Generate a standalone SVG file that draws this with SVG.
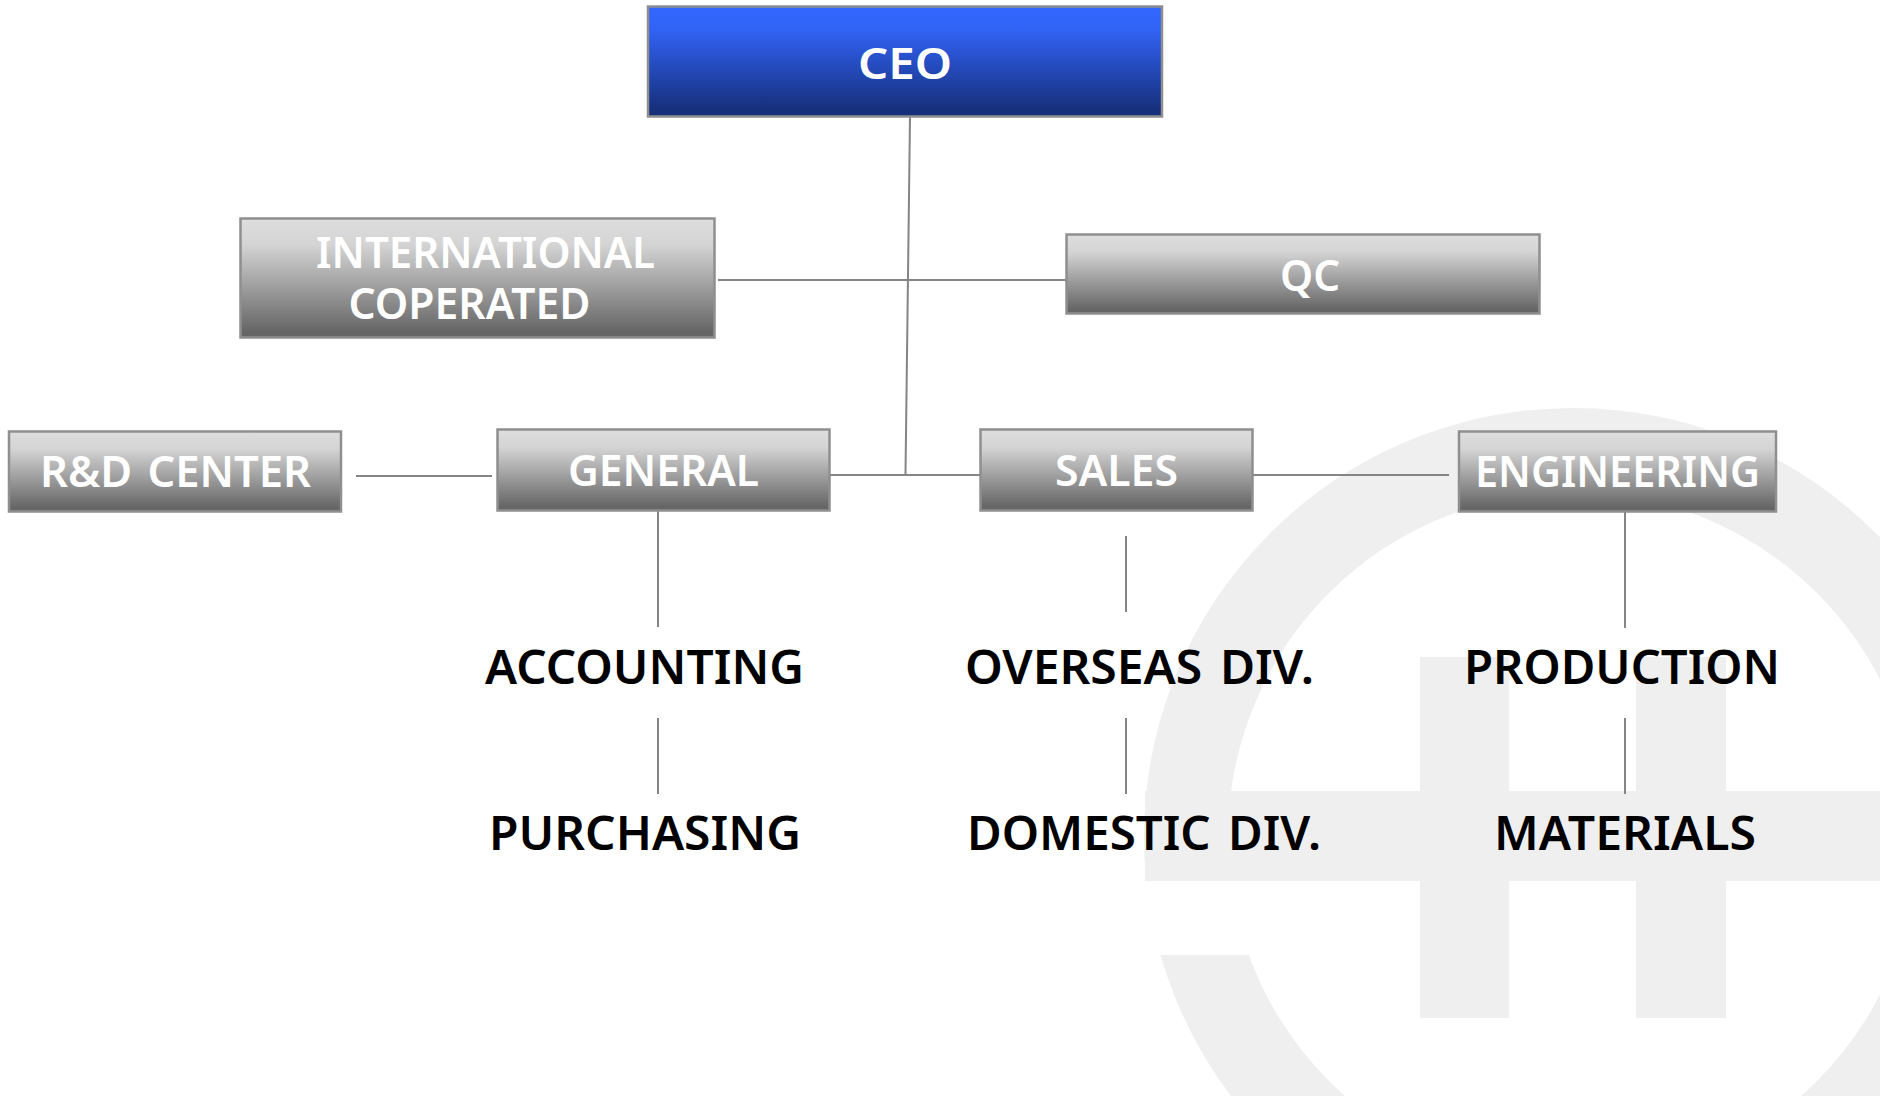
<svg xmlns="http://www.w3.org/2000/svg" width="1880" height="1096" viewBox="0 0 1880 1096">
<style>
text{font-family:"Noto Sans","Open Sans","Liberation Sans",sans-serif;font-weight:600}
.w{fill:#fff;font-size:44px}
.b{fill:#000;font-size:47px}
.box{fill:url(#grey);stroke:#8f8f8f;stroke-width:2.5}
.wm{fill:#efefef}
.c line{stroke:#858585;stroke-width:2;fill:none}
</style>
<defs>
<linearGradient id="grey" x1="0" y1="0" x2="0" y2="1"><stop offset="0" stop-color="#dedede"/><stop offset=".22" stop-color="#d4d4d4"/><stop offset=".95" stop-color="#666"/><stop offset="1" stop-color="#666"/></linearGradient>
<linearGradient id="blue" x1="0" y1="0" x2="0" y2="1"><stop offset="0" stop-color="#3366ff"/><stop offset=".2" stop-color="#3163f6"/><stop offset=".95" stop-color="#162f7a"/><stop offset="1" stop-color="#162f7a"/></linearGradient>
<clipPath id="gap"><path d="M1000 380H1880V1096H1000V955H1420V881H1000Z"/></clipPath>
</defs>
<rect width="1880" height="1096" fill="#fff"/>
<g id="watermark">
<circle cx="1573" cy="837" r="387" fill="none" stroke="#efefef" stroke-width="84" clip-path="url(#gap)"/>
<rect class="wm" x="1145" y="791" width="735" height="90"/>
<rect class="wm" x="1420" y="657" width="89" height="361"/>
<rect class="wm" x="1636" y="657" width="90" height="361"/>
</g>
<g id="connectors" class="c">
<line x1="910" y1="117" x2="905.500" y2="474"/>
<line x1="718" y1="280" x2="1066" y2="280"/>
<line x1="356" y1="476" x2="492" y2="476"/>
<line x1="830" y1="475" x2="980" y2="475"/>
<line x1="1253" y1="475" x2="1449" y2="475"/>
<line x1="658" y1="511" x2="658" y2="627"/>
<line x1="658" y1="718" x2="658" y2="794"/>
<line x1="1126" y1="536" x2="1126" y2="612"/>
<line x1="1126" y1="718" x2="1126" y2="794"/>
<line x1="1625" y1="512" x2="1625" y2="628"/>
<line x1="1625" y1="718" x2="1625" y2="794"/>
</g>
<g id="ceo"><rect x="648" y="6.500" width="514" height="110" fill="url(#blue)" stroke="#8f8f8f" stroke-width="2.500"/><text class="w" x="858" y="79" textLength="94" lengthAdjust="spacingAndGlyphs">CEO</text></g>
<g id="international"><rect class="box" x="240.500" y="218.500" width="474" height="119"/><text class="w" x="316" y="268" textLength="339" lengthAdjust="spacingAndGlyphs">INTERNATIONAL</text><text class="w" x="348.500" y="319" textLength="242" lengthAdjust="spacingAndGlyphs">COPERATED</text></g>
<g id="qc"><rect class="box" x="1066.500" y="234.500" width="473" height="79"/><text class="w" x="1280" y="291" textLength="60" lengthAdjust="spacingAndGlyphs">QC</text></g>
<g id="rd-center"><rect class="box" x="9" y="431.500" width="332" height="80"/><text class="w" x="40" y="487" textLength="271" lengthAdjust="spacingAndGlyphs" word-spacing="4">R&amp;D CENTER</text></g>
<g id="general"><rect class="box" x="497.500" y="429.500" width="332" height="81"/><text class="w" x="568" y="486" textLength="191" lengthAdjust="spacingAndGlyphs">GENERAL</text></g>
<g id="sales"><rect class="box" x="980.500" y="429.500" width="272" height="81"/><text class="w" x="1055" y="486" textLength="123" lengthAdjust="spacingAndGlyphs">SALES</text></g>
<g id="engineering"><rect class="box" x="1459" y="431.500" width="317" height="80"/><text class="w" x="1475" y="487" textLength="285" lengthAdjust="spacingAndGlyphs">ENGINEERING</text></g>
<g id="accounting"><text class="b" x="485" y="684" textLength="319" lengthAdjust="spacingAndGlyphs">ACCOUNTING</text></g>
<g id="overseas"><text class="b" x="965" y="684" textLength="349" lengthAdjust="spacingAndGlyphs" word-spacing="5">OVERSEAS DIV.</text></g>
<g id="production"><text class="b" x="1464" y="684" textLength="316" lengthAdjust="spacingAndGlyphs">PRODUCTION</text></g>
<g id="purchasing"><text class="b" x="489" y="850" textLength="312" lengthAdjust="spacingAndGlyphs">PURCHASING</text></g>
<g id="domestic"><text class="b" x="967" y="850" textLength="354" lengthAdjust="spacingAndGlyphs" word-spacing="5">DOMESTIC DIV.</text></g>
<g id="materials"><text class="b" x="1494" y="850" textLength="262" lengthAdjust="spacingAndGlyphs">MATERIALS</text></g>
</svg>
